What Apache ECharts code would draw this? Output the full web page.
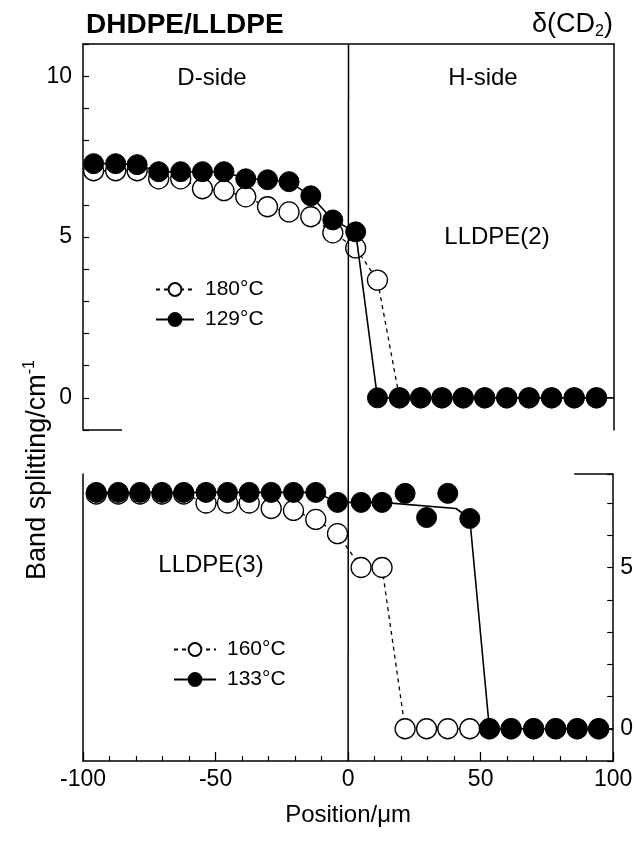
<!DOCTYPE html>
<html>
<head>
<meta charset="utf-8">
<script src="https://cdn.jsdelivr.net/npm/echarts@6/dist/echarts.min.js"></script>
<style>
html,body{margin:0;padding:0;background:#fff;}
#c{width:636px;height:844px;}
</style>
</head>
<body>
<div id="c"></div>
<script>
// ---- data ----
const xTickLabels = ['-100', '-50', '0', '50', '100'];
const yTickLabelsTop = [0, 5, 10];
const yTickLabelsBottom = [0, 5];

// upper panel: LLDPE(2)
const xsTop   = [-96, -87.7, -79.6, -71.5, -63.2, -55, -46.9, -38.7, -30.5, -22.4, -14.2, -5.9, 2.7, 10.9, 19.2, 27.2, 35.2, 43.2, 51.3, 59.6, 68, 76.5, 85, 93.4];
const top180  = [7.06, 7.06, 7.06, 6.81, 6.81, 6.5, 6.44, 6.25, 5.94, 5.78, 5.63, 5.13, 4.66, 3.66, 0, 0, 0, 0, 0, 0, 0, 0, 0, 0];
const top129  = [7.28, 7.28, 7.25, 7.03, 7.03, 7.03, 7.03, 6.81, 6.78, 6.72, 6.28, 5.53, 5.16, 0, 0, 0, 0, 0, 0, 0, 0, 0, 0, 0];
const top129LineEnd = [100, 0];

// lower panel: LLDPE(3)
const xsBottom = [-95, -86.7, -78.5, -70.2, -62, -53.6, -45.5, -37.3, -29, -20.6, -12.2, -4, 4.9, 12.8, 21.5, 29.6, 37.6, 45.9, 53.3, 61.5, 70, 78.3, 86.4, 94.5];
const bot160   = [7.28, 7.28, 7.28, 7.28, 7.28, 7.0, 7.0, 7.0, 6.83, 6.77, 6.49, 6.05, 5.0, 5.0, 0, 0, 0, 0, 0, 0, 0, 0, 0, 0];
const bot133   = [7.33, 7.33, 7.33, 7.33, 7.33, 7.33, 7.33, 7.33, 7.33, 7.33, 7.33, 7.02, 7.02, 7.02, 7.3, 6.55, 7.3, 6.52, 0, 0, 0, 0, 0, 0];
// drawn fit curve of the 133 °C data
const fit133X  = [-95, -86.7, -78.5, -70.2, -62, -53.6, -45.5, -37.3, -29, -20.6, -12.2, -4, 4.9, 12.8, 40.7, 45.9, 53.3, 100];
const fit133Y  = [7.33, 7.33, 7.33, 7.33, 7.33, 7.33, 7.33, 7.33, 7.33, 7.33, 7.33, 7.02, 7.02, 7.02, 6.83, 6.52, 0, 0];

// ---- build ----
const FONT = '"Liberation Sans", Arial, Helvetica, sans-serif';
const zip = (xs, ys) => xs.map((x, i) => [x, ys[i]]);
const chart = echarts.init(document.getElementById('c'), null, {renderer: 'canvas'});

const Y_TOP = [-1, 11];
const Y_BOT = [-1, 7.9];
const grids = [
  {left: 83, top: 44, width: 531, height: 386},
  {left: 83, top: 474, width: 531, height: 287}
];

const blackLine = {show: true, onZero: false, lineStyle: {color: '#000', width: 1.5}};
const openItem = {color: '#fff', borderColor: '#000', borderWidth: 1.3, opacity: 1};
const fillItem = {color: '#000', borderColor: '#000', borderWidth: 1, opacity: 1};

const option = {
  backgroundColor: '#fff',
  animation: false,
  textStyle: {fontFamily: FONT, color: '#000'},
  grid: grids,
  xAxis: [
    {gridIndex: 0, type: 'value', min: -100, max: 100, position: 'top',
     axisLine: blackLine, axisTick: {show: false}, axisLabel: {show: false}, splitLine: {show: false}},
    {gridIndex: 1, type: 'value', min: -100, max: 100, interval: 50, position: 'bottom',
     axisLine: blackLine,
     axisTick: {show: true, inside: true, length: 9, lineStyle: {color: '#000', width: 1.3}},
     minorTick: {show: true, splitNumber: 5, length: 5, lineStyle: {color: '#000', width: 1.2}},
     axisLabel: {show: true, color: '#000', fontSize: 23, fontFamily: FONT, margin: 7,
       showMinLabel: true, showMaxLabel: true,
       formatter: v => { const i = Math.round((v + 100) / 50); return xTickLabels[i] !== undefined ? xTickLabels[i] : ''; }},
     splitLine: {show: false},
     name: 'Position/\u03bcm', nameLocation: 'middle', nameGap: 42,
     nameTextStyle: {color: '#000', fontSize: 24, fontFamily: FONT}}
  ],
  yAxis: [
    {gridIndex: 0, type: 'value', min: Y_TOP[0], max: Y_TOP[1], interval: 1, position: 'left',
     axisLine: blackLine,
     axisTick: {show: true, inside: true, length: 6, lineStyle: {color: '#000', width: 1.2}},
     axisLabel: {show: true, color: '#000', fontSize: 23, fontFamily: FONT, margin: 11,
       formatter: v => yTickLabelsTop.indexOf(v) >= 0 ? String(v) : ''},
     splitLine: {show: false}},
    {gridIndex: 0, type: 'value', min: Y_TOP[0], max: Y_TOP[1], position: 'right',
     axisLine: blackLine, axisTick: {show: false}, axisLabel: {show: false}, splitLine: {show: false}},
    {gridIndex: 1, type: 'value', min: Y_BOT[0], max: Y_BOT[1], position: 'left',
     axisLine: blackLine, axisTick: {show: false}, axisLabel: {show: false}, splitLine: {show: false}},
    {gridIndex: 1, type: 'value', min: Y_BOT[0], max: Y_BOT[1], interval: 1, position: 'right',
     axisLine: blackLine,
     axisTick: {show: true, inside: true, length: 6, lineStyle: {color: '#000', width: 1.2}},
     axisLabel: {show: true, color: '#000', fontSize: 23, fontFamily: FONT, margin: 7,
       formatter: v => yTickLabelsBottom.indexOf(v) >= 0 ? String(v) : ''},
     splitLine: {show: false}}
  ],
  legend: [
    {data: ['180\u00b0C', '129\u00b0C'], orient: 'vertical', left: 150, top: 274,
     itemWidth: 38, itemHeight: 16, itemGap: 9,
     textStyle: {color: '#000', fontSize: 21, fontFamily: FONT, padding: [0, 0, 0, 6]}},
    {data: ['160\u00b0C', '133\u00b0C'], orient: 'vertical', left: 168, top: 634,
     itemWidth: 42, itemHeight: 16, itemGap: 9,
     textStyle: {color: '#000', fontSize: 21, fontFamily: FONT, padding: [0, 0, 0, 6]}}
  ],
  series: [
    {name: '180\u00b0C', type: 'line', xAxisIndex: 0, yAxisIndex: 0, z: 2,
     data: zip(xsTop, top180), symbol: 'circle', symbolSize: 20, showAllSymbol: true,
     itemStyle: openItem, lineStyle: {color: '#000', width: 1.3, type: [4, 4]}},
    {name: '129\u00b0C', type: 'line', xAxisIndex: 0, yAxisIndex: 0, z: 4,
     data: zip(xsTop, top129).concat([{value: top129LineEnd, symbol: 'none'}]),
     symbol: 'circle', symbolSize: 20, showAllSymbol: true,
     itemStyle: fillItem, lineStyle: {color: '#000', width: 1.6}},
    {name: '160\u00b0C', type: 'line', xAxisIndex: 1, yAxisIndex: 3, z: 2,
     data: zip(xsBottom, bot160), symbol: 'circle', symbolSize: 20, showAllSymbol: true,
     itemStyle: openItem, lineStyle: {color: '#000', width: 1.3, type: [4, 4]}},
    {name: '133\u00b0C', type: 'line', xAxisIndex: 1, yAxisIndex: 3, z: 3,
     data: zip(fit133X, fit133Y).map(p => ({value: p, symbol: 'none'})),
     symbol: 'circle', symbolSize: 20,
     itemStyle: fillItem, lineStyle: {color: '#000', width: 1.6}},
    {name: '133\u00b0C points', type: 'scatter', xAxisIndex: 1, yAxisIndex: 3, z: 4,
     data: zip(xsBottom, bot133), symbol: 'circle', symbolSize: 20, itemStyle: fillItem}
  ]
};
chart.setOption(option);

// frame pieces and annotations positioned from the axes
const p = (g, v) => chart.convertToPixel({gridIndex: g}, v);
const cTop = p(0, [0, Y_TOP[1]]);
const cBot = p(1, [0, Y_BOT[0]]);
const tlStubA = p(0, [-100, Y_TOP[0]]);
const brStubB = p(1, [100, Y_BOT[1]]);
const STUB = 39;
const ln = (x1, y1, x2, y2) => ({type: 'line', shape: {x1, y1, x2, y2}, style: {stroke: '#000', lineWidth: 1.5}, z: 10});
const txt = (x, y, text, size) => ({type: 'text', x, y, z: 10,
  style: {text, fill: '#000', font: size + 'px ' + FONT, align: 'center', verticalAlign: 'middle'}});

chart.setOption({
  graphic: [
    ln(cTop[0], cTop[1], cBot[0], cBot[1]),
    ln(tlStubA[0], tlStubA[1], tlStubA[0] + STUB, tlStubA[1]),
    ln(brStubB[0] - STUB, brStubB[1], brStubB[0], brStubB[1]),
    {type: 'text', x: 86, y: 25, z: 10,
     style: {text: 'DHDPE/LLDPE', fill: '#000', font: 'bold 28px ' + FONT, align: 'left', verticalAlign: 'middle'}},
    {type: 'text', x: 613, y: 25, z: 10,
     style: {text: '{a|\u03b4(CD}{b|2}{a|)}', align: 'right', verticalAlign: 'middle',
       rich: {a: {fontSize: 27, fontFamily: FONT, fill: '#000', lineHeight: 30},
              b: {fontSize: 16, fontFamily: FONT, fill: '#000', lineHeight: 14, verticalAlign: 'bottom'}}}},
    txt(212, 78, 'D-side', 24),
    txt(483, 78, 'H-side', 24),
    txt(497, 237, 'LLDPE(2)', 24),
    txt(211, 565, 'LLDPE(3)', 24),
    {type: 'text', x: 38, y: 470, rotation: Math.PI / 2, z: 10,
     style: {text: '{a|Band splitting/cm}{s|-1}', align: 'center', verticalAlign: 'middle',
       rich: {a: {fontSize: 27, fontFamily: FONT, fill: '#000', lineHeight: 32},
              s: {fontSize: 16, fontFamily: FONT, fill: '#000', lineHeight: 17, verticalAlign: 'top'}}}}
  ]
});
</script>
</body>
</html>
